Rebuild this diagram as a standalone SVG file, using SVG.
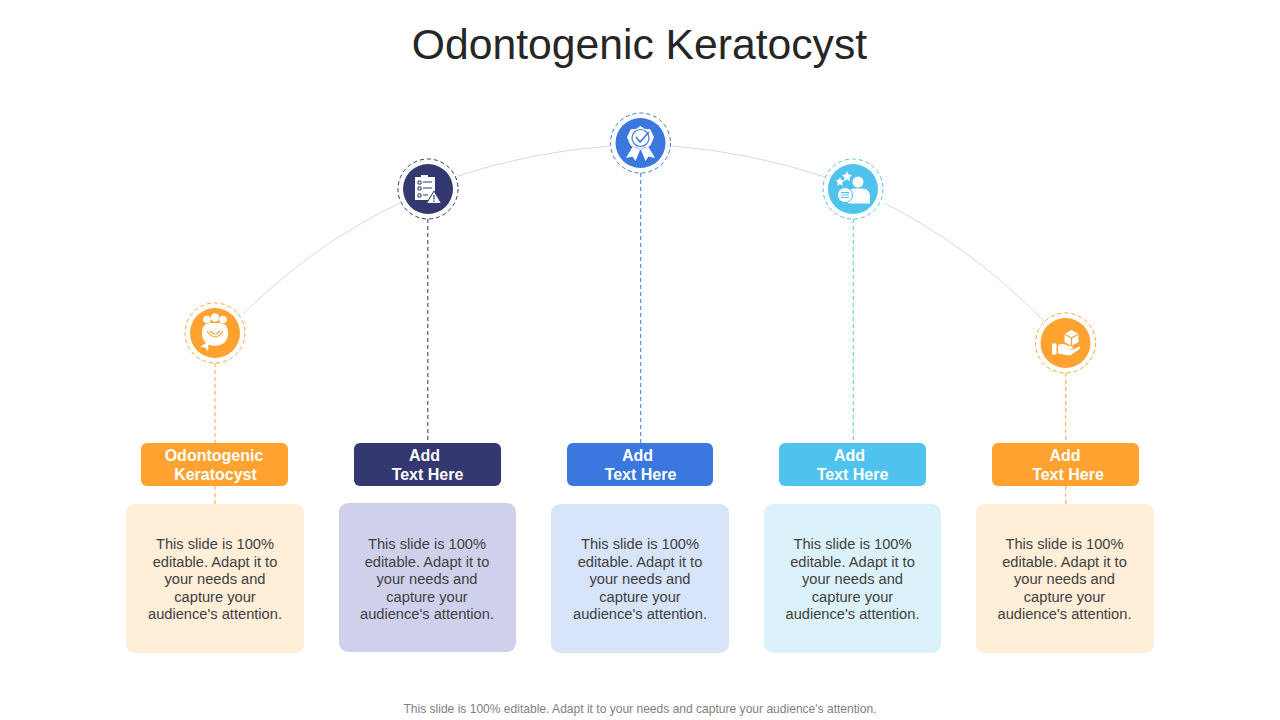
<svg xmlns="http://www.w3.org/2000/svg" width="1280" height="720" viewBox="0 0 1280 720">
<defs>
<style>
text{font-family:"Liberation Sans",Arial,sans-serif;text-anchor:middle}
.title{font-size:42.67px;fill:#262626}
.lab{font-size:16px;font-weight:bold;fill:#ffffff}
.body{font-size:14.67px;fill:#404040}
.foot{font-size:12.06px;fill:#7f7f7f}
.arc{fill:none;stroke:#d9d9d9;stroke-width:1}
.dash{fill:none;stroke-width:1;stroke-dasharray:4 3}
.o{stroke:#ffa230}
.n{stroke:#343870}
.b{stroke:#3a78e0}
.c{stroke:#4fc3ee}
.w{fill:#fff}
</style>
</defs>
<rect width="1280" height="720" fill="#ffffff"/>
<text class="title" x="639.500" y="59">Odontogenic Keratocyst</text>
<g id="connectors">
<path class="arc" d="M243 314Q314 244 400 203"/>
<path class="arc" d="M458 176Q530 152 610 146"/>
<path class="arc" d="M672 146Q750 152 825 177"/>
<path class="arc" d="M884 203Q970 246 1045 322"/>
<path class="dash o" d="M215 363V443M215 486V504"/>
<path class="dash n" d="M427.800 219V443"/>
<path class="dash b" d="M640.700 173V443"/>
<path class="dash c" d="M853.300 219V443"/>
<path class="dash o" d="M1065.800 373V443M1065.800 486V504"/>
</g>
<g id="node1">
<circle cx="215" cy="333" r="30" class="dash o"/>
<circle cx="215" cy="333" r="25" fill="#ffa230"/>
<circle cx="207" cy="319.500" r="3.800" class="w"/><circle cx="215" cy="317.500" r="4.200" class="w"/><circle cx="223" cy="319.500" r="3.800" class="w"/>
<path class="w" d="M202 333Q202 323 210 323L220 323Q228 323 228 333Q228 345 215 346Q202 345 202 333Z"/>
<path d="M207 331Q215 343 223 331M210 331Q215 337 220 331" fill="none" stroke="#ffa230" stroke-width="1.200"/>
<path class="w" d="M200 347L209 341L208 351L205 347.500Z"/>
<rect x="141" y="443" width="147" height="43" rx="6" fill="#ffa230"/>
<text class="lab"><tspan x="214" y="461">Odontogenic</tspan><tspan x="215.500" y="480">Keratocyst</tspan></text>
<rect x="126" y="504" width="178" height="149" rx="9" fill="#ffeed8"/>
<text class="body"><tspan x="215" y="549">This slide is 100%</tspan><tspan x="215" y="567">editable. Adapt it to</tspan><tspan x="215" y="584">your needs and</tspan><tspan x="215" y="602">capture your</tspan><tspan x="215" y="619">audience's attention.</tspan></text>
</g>
<g id="node2">
<circle cx="428" cy="189" r="30" class="dash n"/>
<circle cx="428" cy="189" r="25" fill="#343870"/>
<path class="w" d="M415 177H421V175H428V177H435V200H415Z"/>
<path d="M418 181H421V184H418ZM418 187H421V190H418ZM418 194H421V197H418ZM423 182H432M423 188H432M423 195H428" fill="none" stroke="#343870" stroke-width="1"/>
<path class="w" stroke="#343870" stroke-width="1" d="M434 191L441.500 203.500H426.500Z"/>
<path d="M434 195V199.500M434 200.500V202" fill="none" stroke="#343870" stroke-width="1.200"/>
<rect x="354" y="443" width="147" height="43" rx="6" fill="#343870"/>
<text class="lab"><tspan x="424.500" y="461">Add</tspan><tspan x="427.500" y="480">Text Here</tspan></text>
<rect x="339" y="503" width="177" height="149" rx="9" fill="#cfd1ec"/>
<text class="body"><tspan x="427" y="549">This slide is 100%</tspan><tspan x="427" y="567">editable. Adapt it to</tspan><tspan x="427" y="584">your needs and</tspan><tspan x="427" y="602">capture your</tspan><tspan x="427" y="619">audience's attention.</tspan></text>
</g>
<g id="node3">
<circle cx="640.500" cy="143" r="30" class="dash b"/>
<circle cx="640.500" cy="143" r="25" fill="#3a78e0"/>
<path class="w" d="M633 146L626 158L632.500 156.500L635.500 161L640 150ZM648 146L655 158L648.500 156.500L645.500 161L641 150Z"/>
<path class="w" d="M640.500 126L645 129L650 129L652 133L654 137L652 142L650 146L645 147L640.500 150L636 147L631 146L629 142L627 137L629 133L631 129L636 129Z"/>
<circle cx="640.500" cy="138" r="8.500" fill="none" stroke="#3a78e0" stroke-width="1.200"/>
<path d="M636 137L640 142L649 132" fill="none" stroke="#3a78e0" stroke-width="1.600"/>
<rect x="567" y="443" width="146" height="43" rx="6" fill="#3a78e0"/>
<text class="lab"><tspan x="637.500" y="461">Add</tspan><tspan x="640.500" y="480">Text Here</tspan></text>
<rect x="551" y="504" width="178" height="149" rx="9" fill="#d8e4fa"/>
<text class="body"><tspan x="640" y="549">This slide is 100%</tspan><tspan x="640" y="567">editable. Adapt it to</tspan><tspan x="640" y="584">your needs and</tspan><tspan x="640" y="602">capture your</tspan><tspan x="640" y="619">audience's attention.</tspan></text>
</g>
<g id="node4">
<circle cx="853" cy="189" r="30" class="dash c"/>
<circle cx="853" cy="189" r="25" fill="#4fc3ee"/>
<circle cx="858" cy="182" r="5.500" class="w"/>
<path class="w" d="M848 203.500V195Q849 188.500 854 188.500H863Q870 189.500 870 196V203.500Z"/>
<circle cx="845" cy="195" r="7.500" class="w" stroke="#4fc3ee" stroke-width="1"/>
<path d="M841 192.500H849M841 195H849M841 197.500H849" fill="none" stroke="#4fc3ee" stroke-width="1"/>
<path class="w" d="M847 171L848.500 174.500L852 175L849.500 177.500L850 181L847 179.300L844 181L844.500 177.500L842 175L845.500 174.500Z"/>
<path class="w" d="M840 177L841.300 180L844.500 180.400L842.200 182.600L842.700 185.800L840 184.200L837.300 185.800L837.800 182.600L835.500 180.400L838.700 180Z"/>
<rect x="779" y="443" width="147" height="43" rx="6" fill="#4fc3ee"/>
<text class="lab"><tspan x="849.500" y="461">Add</tspan><tspan x="852.500" y="480">Text Here</tspan></text>
<rect x="764" y="504" width="177" height="149" rx="9" fill="#dcf2fb"/>
<text class="body"><tspan x="852.500" y="549">This slide is 100%</tspan><tspan x="852.500" y="567">editable. Adapt it to</tspan><tspan x="852.500" y="584">your needs and</tspan><tspan x="852.500" y="602">capture your</tspan><tspan x="852.500" y="619">audience's attention.</tspan></text>
</g>
<g id="node5">
<circle cx="1065.500" cy="343" r="30" class="dash o"/>
<circle cx="1065.500" cy="343" r="25" fill="#ffa230"/>
<path class="w" d="M1071.500 330L1078.500 334V342L1071.500 346L1064.500 342V334Z"/>
<path d="M1064.500 334L1071.500 338L1078.500 334M1071.500 338V346" fill="none" stroke="#ffa230" stroke-width="1.200"/>
<rect x="1052" y="343.500" width="4.500" height="11" class="w"/>
<path class="w" d="M1058 345Q1063 343 1067 345.500L1072 346.500Q1074 348.500 1071.500 349.500L1066 349.500L1072 350L1079 346.500Q1081 347 1079.500 349L1070 355.500L1058 353.500Z"/>
<rect x="992" y="443" width="147" height="43" rx="6" fill="#ffa230"/>
<text class="lab"><tspan x="1065" y="461">Add</tspan><tspan x="1068" y="480">Text Here</tspan></text>
<rect x="976" y="504" width="178" height="149" rx="9" fill="#ffeed8"/>
<text class="body"><tspan x="1064.500" y="549">This slide is 100%</tspan><tspan x="1064.500" y="567">editable. Adapt it to</tspan><tspan x="1064.500" y="584">your needs and</tspan><tspan x="1064.500" y="602">capture your</tspan><tspan x="1064.500" y="619">audience's attention.</tspan></text>
</g>
<text class="foot" x="640" y="713">This slide is 100% editable. Adapt it to your needs and capture your audience's attention.</text>
</svg>
